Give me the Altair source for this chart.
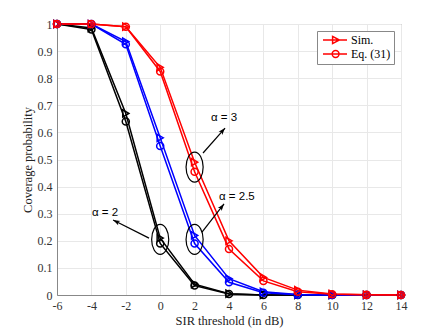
import math
import altair as alt
import pandas as pd

# ---- data ----
snr_db = [-6, -4, -2, 0, 2, 4, 6, 8, 10, 12, 14]
a2_sim = [1.0, 0.985, 0.67, 0.21, 0.040, 0.005, 0.0, 0.0, 0.0, 0.0, 0.0]
a2_eq = [1.0, 0.980, 0.64, 0.19, 0.035, 0.004, 0.0, 0.0, 0.0, 0.0, 0.0]
a25_sim = [1.0, 1.0, 0.935, 0.58, 0.22, 0.060, 0.012, 0.002, 0.0, 0.0, 0.0]
a25_eq = [1.0, 1.0, 0.925, 0.55, 0.19, 0.047, 0.008, 0.001, 0.0, 0.0, 0.0]
a3_sim = [1.0, 1.0, 0.99, 0.84, 0.49, 0.20, 0.065, 0.018, 0.004, 0.001, 0.0]
a3_eq = [1.0, 1.0, 0.99, 0.825, 0.455, 0.17, 0.052, 0.012, 0.003, 0.0005, 0.0]
y_ticks = [0, 0.1, 0.2, 0.3, 0.4, 0.5, 0.6, 0.7, 0.8, 0.9, 1]

alphas = ["a2", "a25", "a3"]
alpha_colors = ["black", "blue", "red"]
types = ["Sim.", "Eq. (31)"]

# annotations (data coordinates)
ell_x = [0, 2, 2]
ell_y = [0.205, 0.205, 0.472]
arrow_x = [-0.65, 2.43, 2.49]
arrow_y = [0.21, 0.232, 0.524]
arrow_x2 = [-2.74, 3.71, 3.77]
arrow_y2 = [0.277, 0.336, 0.616]
label_text = ["α = 2", "α = 2.5", "α = 3"]
label_x = [-3.97, 3.42, 2.95]
label_y = [0.303, 0.362, 0.653]

W, H = 344, 271
XMIN, XMAX = -6, 14

series = {
    ("a2", "Sim."): a2_sim, ("a2", "Eq. (31)"): a2_eq,
    ("a25", "Sim."): a25_sim, ("a25", "Eq. (31)"): a25_eq,
    ("a3", "Sim."): a3_sim, ("a3", "Eq. (31)"): a3_eq,
}
rows = []
for (a, t), vals in series.items():
    for x, v in zip(snr_db, vals):
        rows.append({"x": x, "p": v, "alpha": a, "type": t})
df = pd.DataFrame(rows)

xs = alt.Scale(domain=[XMIN, XMAX], nice=False, zero=False)
ys = alt.Scale(domain=[0, 1], nice=False)
cs = alt.Scale(domain=alphas, range=alpha_colors)


def X(field):
    return alt.X(field, type="quantitative", scale=xs, title="SIR threshold (in dB)",
                 axis=alt.Axis(values=snr_db, labelExpr="'' + datum.value"))


def Y(field):
    return alt.Y(field, type="quantitative", scale=ys, title="Coverage probability",
                 axis=alt.Axis(values=y_ticks, labelExpr="'' + datum.value"))


base = alt.Chart(df)
lines = base.mark_line(strokeWidth=1.5).encode(
    x=X("x"), y=Y("p"),
    color=alt.Color("alpha:N", scale=cs, legend=None),
    detail="type:N",
)
points = base.mark_point(filled=False, strokeWidth=1.5, size=50, opacity=1).encode(
    x=X("x"), y=Y("p"),
    color=alt.Color("alpha:N", scale=cs, legend=None),
    shape=alt.Shape("type:N", scale=alt.Scale(domain=types, range=["triangle-right", "circle"]), legend=None),
)

leg_paths = [
    "M -3.0 0 L 3.0 0 M -0.6 -0.9 L 1.1 0 L -0.6 0.9 Z",
    "M -3.0 0 L 3.0 0 M -0.7 0 A 0.85 0.85 0 1 0 1.0 0 A 0.85 0.85 0 1 0 -0.7 0 Z",
]
legend_layer = alt.Chart(df[df["alpha"] == "a3"]).mark_point(opacity=0, filled=False).encode(
    x=X("x"), y=Y("p"),
    shape=alt.Shape("type:N", scale=alt.Scale(domain=types, range=leg_paths),
                    legend=alt.Legend(title=None, orient="top-right", offset=7,
                                      symbolSize=64, symbolStrokeColor="red",
                                      symbolFillColor="transparent", symbolStrokeWidth=1.5,
                                      symbolOpacity=1, symbolOffset=9, labelOffset=10,
                                      labelFont="Liberation Serif", labelFontSize=12,
                                      labelColor="black", padding=3, rowPadding=0,
                                      fillColor="white", strokeColor="#888")),
)

ann = pd.DataFrame({
    "ex": ell_x, "ey": ell_y,
    "ax": arrow_x, "ay": arrow_y, "ax2": arrow_x2, "ay2": arrow_y2,
    "tx": label_x, "ty": label_y, "text": label_text,
})
px_per_x = W / (XMAX - XMIN)
ann["angle"] = [
    (math.degrees(math.atan2((x2 - x1) * px_per_x, (y2 - y1) * H)) + 360) % 360
    for x1, y1, x2, y2 in zip(arrow_x, arrow_y, arrow_x2, arrow_y2)
]

ellipse_path = "M -0.57 0 A 0.57 1 0 1 0 0.57 0 A 0.57 1 0 1 0 -0.57 0 Z"
ellipses = alt.Chart(ann).mark_point(shape=ellipse_path, size=900, filled=False,
                                     color="black", strokeWidth=1.2, opacity=1).encode(
    x=X("ex"), y=Y("ey"))
arrow_lines = alt.Chart(ann).mark_rule(color="black", strokeWidth=1.2).encode(
    x=X("ax"), y=Y("ay"), x2="ax2:Q", y2="ay2:Q")
arrow_heads = alt.Chart(ann).mark_point(shape="M 0 0 L 0.7 2 L 0 1.5 L -0.7 2 Z", size=49,
                                        filled=True, color="black", opacity=1).encode(
    x=X("ax2"), y=Y("ay2"),
    angle=alt.Angle("angle:Q", scale=None))
labels = alt.Chart(ann).mark_text(align="left", baseline="middle", font="Liberation Sans",
                                  fontSize=11.5, color="black").encode(
    x=X("tx"), y=Y("ty"), text="text:N")

chart = alt.layer(lines, points, ellipses, arrow_lines, arrow_heads, labels, legend_layer).resolve_scale(
    shape="independent"
).properties(
    width=W, height=H,
    autosize=alt.AutoSizeParams(type="none"),
    padding={"left": 49, "top": 16, "right": 34, "bottom": 40},
).configure_view(stroke="#888", strokeWidth=1).configure_axis(
    labelFont="Liberation Serif", labelFontSize=12, labelColor="#333",
    titleFont="Liberation Serif", titleFontSize=12.5, titleFontWeight="normal", titleColor="#222",
    gridColor="#e8e8e8", gridWidth=1, domainColor="#888", ticks=False, labelPadding=5,
    labelOverlap=False, labelFlush=False,
).configure_axisY(titlePadding=3).configure_axisX(titlePadding=3)

chart.save("out.html", embed_options={"renderer": "svg", "actions": False})
